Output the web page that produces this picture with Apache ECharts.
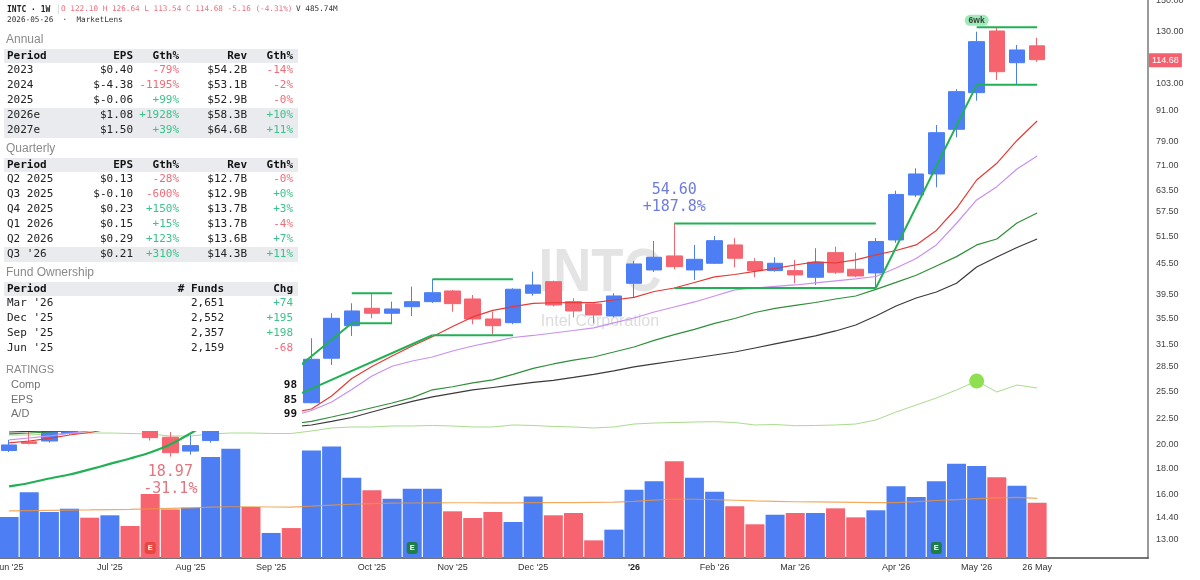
<!DOCTYPE html>
<html>
<head>
<meta charset="utf-8">
<script src="https://cdn.jsdelivr.net/npm/echarts@6/dist/echarts.min.js"></script>
<style>html,body{margin:0;padding:0;background:#fff}#c{width:1200px;height:580px}</style>
</head>
<body>
<div id="c"></div>
<script>
// ---------------- DATA ----------------
const ticker = 'INTC';
const barInterval = '1W';
const companyName = 'Intel Corporation';
const weeks = ['2025-06-02','2025-06-09','2025-06-16','2025-06-23','2025-06-30','2025-07-07','2025-07-14','2025-07-21','2025-07-28','2025-08-04','2025-08-11','2025-08-18','2025-08-25','2025-09-02','2025-09-08','2025-09-15','2025-09-22','2025-09-29','2025-10-06','2025-10-13','2025-10-20','2025-10-27','2025-11-03','2025-11-10','2025-11-17','2025-11-24','2025-12-01','2025-12-08','2025-12-15','2025-12-22','2025-12-29','2026-01-05','2026-01-12','2026-01-20','2026-01-26','2026-02-02','2026-02-09','2026-02-17','2026-02-23','2026-03-02','2026-03-09','2026-03-16','2026-03-23','2026-03-30','2026-04-06','2026-04-13','2026-04-20','2026-04-27','2026-05-04','2026-05-11','2026-05-18','2026-05-26'];
const futureWeeks = ['2026-06-01','2026-06-08','2026-06-15','2026-06-22','2026-06-29'];

const open  = [19.50,20.28,20.36,21.10,22.10,21.70,22.90,22.20,20.71,19.45, 20.40,23.60,24.70,24.20,24.40,24.22,29.63,34.34,37.16,36.33, 37.43,38.29,40.19,38.76,35.40,34.81,39.78,41.92,38.29,37.89, 35.89,41.62,44.21,47.11,44.21,45.57,49.52,45.91,44.07,44.07, 42.77,47.82,44.35,43.61,50.65,62.10,68.31,83.65,98.76,130.60, 113.10,122.10];
const high  = [20.46,21.40,21.80,22.30,22.60,23.30,23.40,22.60,21.20,20.90, 24.10,25.00,25.10,24.80,24.90,32.44,36.33,38.01,39.78,38.29, 40.98,42.38,40.38,39.47,36.59,40.69,43.87,42.11,38.88,38.24, 39.78,46.05,50.42,54.60,49.52,51.58,51.04,46.62,46.83,46.26, 48.78,49.14,47.82,51.11,63.33,70.09,85.30,100.30,130.20,132.80, 122.60,126.64];
const low   = [19.37,20.05,20.20,20.95,21.40,21.50,22.10,20.40,18.97,19.14, 20.20,22.90,23.80,23.90,23.80,24.16,28.74,32.78,35.51,34.72, 35.89,38.07,36.59,34.56,33.03,34.56,39.34,37.47,35.67,34.72, 35.67,39.03,43.81,44.35,42.25,45.43,44.76,42.77,43.87,41.62, 41.30,43.41,42.77,40.74,50.00,61.50,64.31,80.68,95.24,104.60, 102.30,113.54];
const close = [20.00,20.14,21.50,21.90,21.60,22.80,22.30,20.67,19.31,19.94, 23.86,24.80,24.35,24.38,24.08,29.49,35.51,36.71,36.33,37.04, 38.29,39.88,37.95,35.40,34.34,40.51,41.30,37.72,36.71,36.05, 39.29,45.43,46.83,44.88,46.40,50.49,46.62,44.07,45.57,43.22, 45.78,43.75,43.02,50.30,62.25,68.31,82.37,99.21,124.45,108.60, 119.84,114.68];
// volume, millions of shares
const volume = [360,577,404,433,354,375,281,562,427,442, 887,960,448,220,263,945,980,705,594,521, 609,609,410,351,404,316,541,375,395,155, 249,600,673,849,705,582,454,296,380,395, 395,436,357,419,629,536,673,828,808,708, 635,485.74];
const volumeMA = [413,416,418,420,422,425,427,432,436,440, 446,450,450,448,446,455,465,472,478,481, 483,484,485,485,484,484,486,486,486,488, 490,498,508,518,516,512,507,502,498,494, 492,490,488,486,486,495,505,513,521,528, 533,524];
const ma10 = [20.18,20.36,20.60,20.92,21.16,21.50,21.80,21.99,22.09,22.09, 22.19,22.50,22.81,23.01,23.12,23.54,24.97,27.03,28.54,29.93, 31.32,32.67,34.22,35.73,36.80,37.43,38.01,38.10,38.12,38.12, 38.58,39.03,40.10,40.74,41.77,42.83,43.31,43.91,44.51,45.22, 45.84,45.63,46.26,47.32,48.29,49.52,52.88,58.47,66.47,71.70, 79.51,86.86];
const ma21 = [20.46,20.64,20.83,21.07,21.31,21.50,21.70,21.84,21.94,21.99, 22.09,22.29,22.50,22.65,22.75,23.38,24.30,25.72,27.34,28.57, 29.26,29.80,30.62,31.32,31.90,32.55,32.85,33.22,33.60,33.99, 34.77,35.56,36.54,37.38,38.24,39.29,40.38,40.74,41.02,41.30, 41.68,42.06,42.44,42.92,44.61,46.58,49.52,54.63,60.72,64.49, 69.88,74.12];
const ma30 = [21.02,21.11,21.21,21.31,21.36,21.40,21.45,21.50,21.55,21.60, 21.65,21.70,21.80,21.89,21.99,22.25,22.70,23.17,23.67,24.19, 24.79,25.68,26.04,26.49,26.87,27.53,28.30,28.87,29.37,29.80, 30.48,31.18,32.12,32.97,33.76,34.69,35.48,36.46,37.13,37.64, 38.15,38.76,39.29,40.49,41.79,43.16,45.02,46.96,49.52,50.88, 54.71,57.24];
const ma40 = [21.21,21.26,21.31,21.36,21.40,21.45,21.48,21.50,21.52,21.55, 21.57,21.60,21.63,21.67,21.70,21.89,22.25,22.65,23.22,23.81, 24.36,24.86,25.26,25.66,25.95,26.25,26.55,26.81,27.16,27.53, 27.97,28.48,28.87,29.26,29.66,30.07,30.48,31.04,31.61,32.19, 32.78,33.53,34.45,35.89,37.55,38.94,40.01,41.62,44.81,46.89, 48.96,50.88];
const rsLine = [22.04,22.04,22.22,22.40,22.40,22.40,22.31,22.22,21.86,21.86, 22.22,22.40,22.40,22.31,22.31,22.76,23.30,23.48,23.48,23.66, 23.66,23.75,23.66,23.48,23.48,23.84,23.75,23.57,23.48,23.30, 23.48,24.01,24.19,24.28,24.37,24.43,24.28,23.84,23.92,23.71, 23.75,23.84,24.01,24.73,26.16,27.42,28.67,30.11,31.72,29.75, 31.00,30.47];
const rsHighWeek = 48;

// pattern annotations (week index, price)
const baseCurve = [16.57,16.83,17.18,17.49,17.90,18.35,18.81,19.33,20.04,21.07,22.29];
const trendLines = [[14,27.73,17,34.72],[14,24.79,21,32.88],[43,40.74,48,102.3]];
const boxes = [[17,19,39.78,34.72],[21,25,42.38,32.88],[33,43,54.60,40.74],[48,51,132.8,102.3]];
const baseLowWeek = 8, basePeakWeek = 33, baseDepthPct = -31.1;
const tightTag = '6wk';
const earningsWeeks = [7,20,46];
const earningsUp = [false,true,true];

// axis ticks
const priceTicks = [150,130,103,91,79,71,63.5,57.5,51.5,45.5,39.5,35.5,31.5,28.5,25.5,22.5,20,18,16,14.4,13];
const priceMin = 11.98, priceMax = 150.3, volumeMax = 4900;
const labelWeeks = [0,5,9,13,18,22,26,31,35,39,44,48,51];
const labelTexts = ["Jun '25","Jul '25","Aug '25","Sep '25","Oct '25","Nov '25","Dec '25","'26","Feb '26","Mar '26","Apr '26","May '26","26 May"];

// fundamentals table
const annualRows = [["2023","$0.40","-79%","$54.2B","-14%"],["2024","$-4.38","-1195%","$53.1B","-2%"],["2025","$-0.06","+99%","$52.9B","-0%"],["2026e","$1.08","+1928%","$58.3B","+10%"],["2027e","$1.50","+39%","$64.6B","+11%"]];
const annualEstimate = [false,false,false,true,true];
const quarterRows = [["Q2 2025","$0.13","-28%","$12.7B","-0%"],["Q3 2025","$-0.10","-600%","$12.9B","+0%"],["Q4 2025","$0.23","+150%","$13.7B","+3%"],["Q1 2026","$0.15","+15%","$13.7B","-4%"],["Q2 2026","$0.29","+123%","$13.6B","+7%"],["Q3 '26","$0.21","+310%","$14.3B","+11%"]];
const quarterEstimate = [false,false,false,false,false,true];
const fundRows = [["Mar '26","2,651","+74"],["Dec '25","2,552","+195"],["Sep '25","2,357","+198"],["Jun '25","2,159","-68"]];
const ratingRows = [["Comp","98"],["EPS","85"],["A/D","99"]];

// ---------------- BUILD ----------------
const L = Math.log;
const SANS = '"Liberation Sans", Arial, sans-serif';
const MONO = '"DejaVu Sans Mono", monospace';
const BLUE = '#4d7ef4', RED = '#f5646f', GREEN = '#22b055';
const POS = '#3cc38b', NEG = '#ef6c79';
const cats = weeks.concat(futureWeeks);
const last = close.length - 1;

const G = [];
const addText = (x, y, text, font, fill, align) => G.push({type:'text', x, y, z:101, silent:true,
  style:{text, font, fill, textAlign:align||'left', textVerticalAlign:'middle', align:align||'left', verticalAlign:'middle'}});
const addRect = (x, y, w, h, fill) => G.push({type:'rect', z:100, silent:true, shape:{x, y, width:w, height:h}, style:{fill}});
const signColor = s => s.trim().charAt(0) === '-' ? NEG : POS;

// watermark (behind series)
G.push({type:'text', x:600, y:274, z:0, silent:true, scaleX:0.85,
  style:{text:ticker, font:`bold 62px ${SANS}`, fill:'#e4e4e4', textAlign:'center', textVerticalAlign:'middle', align:'center', verticalAlign:'middle'}});
G.push({type:'text', x:600, y:321.5, z:0, silent:true,
  style:{text:companyName, font:`16px ${SANS}`, fill:'#dcdcdc', textAlign:'center', textVerticalAlign:'middle', align:'center', verticalAlign:'middle'}});

// table panel
addRect(0, 0, 302, 431, '#ffffff');
const chg = close[last] - close[last-1];
const chgPct = chg / close[last-1] * 100;
const sgn = v => (v >= 0 ? '+' : '');
addText(7, 9.5, `${ticker} · ${barInterval}`, `bold 8px ${MONO}`, '#222');
addText(56, 9.5, '│', `8px ${MONO}`, '#cccccc');
addText(61, 9.5, `O ${open[last].toFixed(2)} H ${high[last].toFixed(2)} L ${low[last].toFixed(2)} C ${close[last].toFixed(2)} ${sgn(chg)}${chg.toFixed(2)} (${sgn(chg)}${chgPct.toFixed(2)}%)`, `7.7px ${MONO}`, chg >= 0 ? BLUE : '#f06f7c');
addText(296, 9.5, `V ${volume[last].toFixed(2)}M`, `7.7px ${MONO}`, '#333');
addText(7, 20.5, `${weeks[last]}  ·  MarketLens`, `7.7px ${MONO}`, '#333');

const colX5 = [7,133,179,247,293];
const colA5 = ['left','right','right','right','right'];
const HEAD = `bold 11px ${MONO}`, CELL = `11px ${MONO}`, TITLE = `12px ${SANS}`;
function finTable(titleY, title, headY, rows, est) {
  addText(6, titleY, title, TITLE, '#8a8a8a');
  addRect(4, headY - 7, 294, 14, '#e9ebee');
  ['Period','EPS','Gth%','Rev','Gth%'].forEach((h, c) => addText(colX5[c], headY, h, HEAD, '#111', colA5[c]));
  rows.forEach((r, k) => {
    const y = headY + 15 * (k + 1) - 0.5;
    if (est[k]) addRect(4, y - 7.5, 294, 15, '#e9ebee');
    r.forEach((v, c) => addText(colX5[c], y, v, CELL, (c === 2 || c === 4) ? signColor(v) : '#222', colA5[c]));
  });
}
finTable(40, 'Annual', 56, annualRows, annualEstimate);
finTable(149, 'Quarterly', 165, quarterRows, quarterEstimate);

addText(6, 272.7, 'Fund Ownership', TITLE, '#8a8a8a');
addRect(4, 282, 294, 14, '#e9ebee');
const fx = [7,224,293], fa = ['left','right','right'];
['Period','# Funds','Chg'].forEach((h, c) => addText(fx[c], 289, h, HEAD, '#111', fa[c]));
fundRows.forEach((r, k) => {
  const y = 303.5 + 15 * k;
  r.forEach((v, c) => addText(fx[c], y, v, CELL, c === 2 ? signColor(v) : '#222', fa[c]));
});
addText(6, 369.5, 'RATINGS', `11px ${SANS}`, '#888');
ratingRows.forEach((r, k) => {
  const y = 385 + 14.7 * k;
  addText(11, y, r[0], `11px ${SANS}`, '#707070');
  addText(297, y, r[1], `bold 11px ${MONO}`, '#111', 'right');
});

// series
const series = [];
series.push({
  type:'bar', name:'Volume', yAxisIndex:1, z:1, barWidth:19, silent:true,
  data: volume.map((v, i) => ({value:v, itemStyle:{color: (i ? close[i] >= close[i-1] : close[i] >= open[i]) ? BLUE : RED}})),
  markPoint: {
    symbol:'roundRect', symbolSize:[11,12], symbolOffset:[0,-10], silent:true,
    label:{show:true, formatter:'E', color:'#fff', fontSize:7.5, fontWeight:'bold', fontFamily:SANS},
    data: earningsWeeks.map((w, k) => ({coord:[cats[w], 0], itemStyle:{color: earningsUp[k] ? '#1f7d48' : '#e8463f'}}))
  }
});
series.push({type:'line', name:'Vol MA', yAxisIndex:1, z:2, data:volumeMA, showSymbol:false, silent:true,
  lineStyle:{color:'rgba(238,150,60,0.8)', width:1.2}});
series.push({type:'line', name:'RS', yAxisIndex:2, z:2, data:rsLine, showSymbol:false, silent:true,
  lineStyle:{color:'#a9dc8c', width:1},
  markPoint:{symbol:'circle', symbolSize:15, silent:true, label:{show:false}, itemStyle:{color:'#8fe050'},
    data:[{coord:[cats[rsHighWeek], rsLine[rsHighWeek]]}]}});
series.push({
  type:'candlestick', name:ticker, yAxisIndex:0, z:3, barWidth:16, silent:true,
  data: weeks.map((d, i) => [L(open[i]), L(close[i]), L(low[i]), L(high[i])]),
  itemStyle:{color:BLUE, color0:RED, borderColor:BLUE, borderColor0:RED, borderWidth:1},
  markLine:{silent:true, symbol:['none','none'], lineStyle:{color:'transparent', width:0},
    label:{show:true, position:'end', distance:1, formatter: close[last].toFixed(2), backgroundColor:'#f4606e',
      color:'#fff', fontSize:9, fontFamily:SANS, padding:[2,3], lineHeight:10},
    data:[{yAxis: L(close[last])}]}
});
[[ma10,'#e53a35'],[ma21,'#c890ef'],[ma30,'#2f8f3a'],[ma40,'#3a3a3a']].forEach(([arr, col]) => {
  series.push({type:'line', yAxisIndex:0, z:4, data:arr.map(L), showSymbol:false, silent:true, lineStyle:{color:col, width:1.2}});
});
const seg = pts => ({type:'line', yAxisIndex:0, z:6, showSymbol:false, silent:true,
  data: pts.map(([i, p]) => [cats[i], L(p)]), lineStyle:{color:GREEN, width:2}});
series.push({type:'line', yAxisIndex:0, z:6, showSymbol:false, silent:true, smooth:0.3,
  data: baseCurve.map(L), lineStyle:{color:GREEN, width:2.2}});
trendLines.forEach(([a, p0, b, p1]) => series.push(seg([[a, p0], [b, p1]])));
boxes.forEach(([a, b, top, bot]) => { series.push(seg([[a, top], [b, top]])); series.push(seg([[a, bot], [b, bot]])); });

const gainPct = (high[basePeakWeek] / low[baseLowWeek] - 1) * 100;
const tagBox = boxes[boxes.length - 1];
series.push({type:'scatter', yAxisIndex:0, z:7, symbolSize:1, silent:true, itemStyle:{color:'rgba(0,0,0,0)'},
  data:[
    {value:[cats[basePeakWeek], L(high[basePeakWeek])], label:{show:true, position:'top', distance:7,
      formatter:`${high[basePeakWeek].toFixed(2)}\n+${gainPct.toFixed(1)}%`, color:'#4a5bd4', fontFamily:MONO, fontSize:15, lineHeight:17, align:'center'}},
    {value:[cats[baseLowWeek], L(low[baseLowWeek])], label:{show:true, position:'bottom', distance:7,
      formatter:`${low[baseLowWeek].toFixed(2)}\n${baseDepthPct.toFixed(1)}%`, color:'#d9535f', fontFamily:MONO, fontSize:15, lineHeight:17, align:'center'}},
    {value:[cats[tagBox[0]], L(tagBox[2])], label:{show:true, position:'top', distance:1, formatter:tightTag,
      backgroundColor:'#88e3a6', borderRadius:6, padding:[1,4], lineHeight:9, color:'#111', fontSize:8.5, fontWeight:'bold', fontFamily:SANS}}
  ]});

const option = {
  animation:false,
  backgroundColor:'#ffffff',
  textStyle:{fontFamily:SANS},
  grid:{left:-1, right:52, top:0, bottom:22, containLabel:false, outerBoundsMode:'none'},
  xAxis:{type:'category', data:cats, boundaryGap:true,
    axisLine:{show:true, lineStyle:{color:'#4a4a4a', width:1.5}}, axisTick:{show:false}, splitLine:{show:false},
    axisLabel:{interval:0, margin:5, fontSize:9, fontFamily:SANS, color:'#333',
      formatter:(v, i) => { const k = labelWeeks.indexOf(i); if (k < 0) return ''; const t = labelTexts[k]; return t.charAt(0) === "'" ? `{b|${t}}` : t; },
      rich:{b:{fontWeight:'bold', fontSize:9, fontFamily:SANS, color:'#222'}}}},
  yAxis:[
    {type:'value', position:'right', min:L(priceMin), max:L(priceMax),
      axisLine:{show:true, lineStyle:{color:'#9a9a9a', width:2}}, axisTick:{show:false}, splitLine:{show:false},
      axisLabel:{customValues:priceTicks.map(L), formatter:v => Math.exp(v).toFixed(2), fontSize:9, fontFamily:SANS, color:'#444', margin:8}},
    {type:'value', min:0, max:volumeMax, show:false, splitLine:{show:false}},
    {type:'value', min:0, max:100, show:false, splitLine:{show:false}}
  ],
  series,
  graphic:{elements:G}
};
const chart = echarts.init(document.getElementById('c'), null, {renderer:'canvas', width:1200, height:580});
chart.setOption(option);
</script>
</body>
</html>
